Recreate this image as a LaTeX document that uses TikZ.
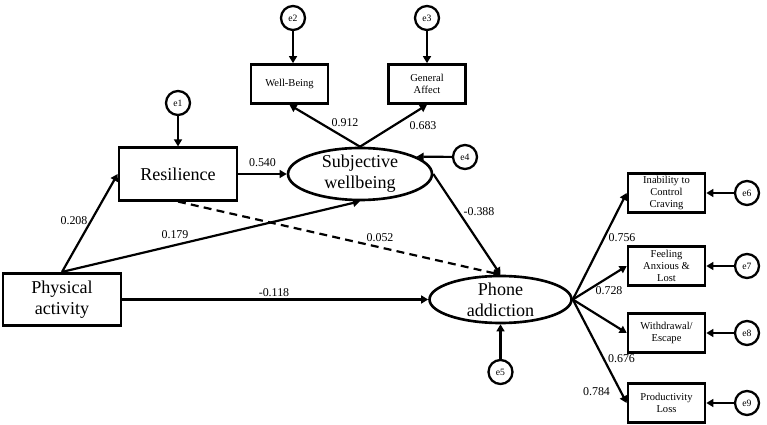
\documentclass[tikz,border=0pt]{standalone}
\usepackage{fontspec}
\setmainfont{Liberation Serif}
\usetikzlibrary{shapes.geometric, arrows.meta, positioning}

\begin{document}
\begin{tikzpicture}[
  font=\fontsize{10.3}{12}\selectfont,
  osservata/.style={draw=black, line width=1.5pt, align=center, inner sep=1pt,
                 minimum width=2.36cm, minimum height=1.05cm},
  indicatore/.style={osservata, font=\fontsize{6}{6.8}\selectfont,
                 minimum width=1.54cm, minimum height=0.78cm},
  latente/.style={ellipse, draw=black, line width=1.5pt, align=center,
                 inner xsep=0pt, inner ysep=-2pt},
  errore/.style={circle, draw=black, line width=1.3pt, inner sep=0pt,
                 minimum size=0.48cm, font=\fontsize{5.5}{6}\selectfont},
  punta/.style={-{Triangle[length=4pt,width=4.5pt]}},
  freccia/.style={draw=black, line width=1.25pt, punta},
  tratteggio/.style={freccia, dash pattern=on 4.5pt off 3pt},
  peso/.style={font=\fontsize{6.8}{7}\selectfont, inner sep=0pt}
]
\useasboundingbox (0,0) rectangle (15.34,-8.5);

% costrutti
\node[osservata] (PA) at (1.24,-5.99) {Physical\\activity};
\node[osservata] (RES) at (3.56,-3.48) {Resilience};
\node[latente, minimum width=2.88cm, minimum height=1.04cm] (SW) at (7.20,-3.48) {Subjective\\wellbeing};
\node[latente, minimum width=2.84cm, minimum height=0.94cm] (PH) at (10.01,-5.99) {Phone\\addiction};
\node[indicatore] (WB) at (5.79,-1.68) {Well-Being};
\node[indicatore] (GA) at (8.54,-1.68) {General\\Affect};

% errori
\node[errore] (e1) at (3.56,-2.06) {e1};
\node[errore] (e2) at (5.86,-0.36) {e2};
\node[errore] (e3) at (8.54,-0.36) {e3};
\node[errore] (e4) at (9.30,-3.14) {e4};
\node[errore] (e5) at (10.01,-7.44) {e5};
\draw[freccia] (e1) -- (RES);
\draw[freccia] (e2) -- (e2 |- WB.north);
\draw[freccia] (e3) -- (GA);
\draw[freccia] (e4) -- (SW.17);
\draw[freccia] (e5) -- (PH);

% indicatori della dipendenza
\foreach \n/\e/\y/\t in {IC/6/-3.86/{Inability to\\Control\\Craving},
                         FA/7/-5.32/{Feeling\\Anxious \&\\Lost},
                         WE/8/-6.66/{Withdrawal/\\Escape},
                         PL/9/-8.06/{Productivity\\Loss}} {
  \node[indicatore] (\n) at (13.33,\y) {\t};
  \node[errore] (e\e) at (14.94,\y) {e\e};
  \draw[freccia] (e\e) -- (\n);
  \draw[freccia] (PH.east) -- (\n.west);
}

% percorsi
\draw[freccia] (SW.north) -- (WB.south);
\draw[freccia] (SW.north) -- (GA.south);
\draw[freccia] (RES) -- (SW);
\draw[freccia] (PA.north) -- (RES.west);
\draw[freccia] (PA.north) -- (SW.south);
\draw[tratteggio] (RES.south) -- (PH.north);
\draw[freccia] (SW.east) -- (PH.north);
\draw[freccia] (PA) -- (PH);

% coefficienti
\foreach \x/\y/\v [count=\i] in {5.25/-3.25/0.540, 6.90/-2.46/0.912, 8.46/-2.51/0.683,
    1.48/-4.42/0.208, 3.50/-4.69/0.179, 7.60/-4.75/0.052, 9.58/-4.24/-0.388,
    5.48/-5.85/-0.118, 12.44/-4.75/0.756, 12.18/-5.82/0.728, 12.43/-7.17/0.676,
    11.93/-7.84/0.784} {
  \node[peso] (w\i) at (\x,\y) {\v};
}

\end{tikzpicture}
\end{document}
